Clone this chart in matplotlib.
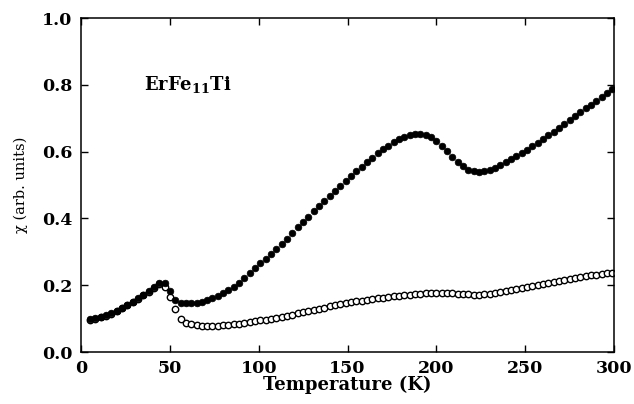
import matplotlib.pyplot as plt

# Temperature grid (K)
temperature = [5, 8, 11, 14, 17, 20, 23, 26, 29, 32, 35, 38, 41, 44, 47, 50, 53, 56, 59, 62,
               65, 68, 71, 74, 77, 80, 83, 86, 89, 92, 95, 98, 101, 104, 107, 110, 113, 116, 119, 122,
               125, 128, 131, 134, 137, 140, 143, 146, 149, 152, 155, 158, 161, 164, 167, 170, 173, 176, 179, 182,
               185, 188, 191, 194, 197, 200, 203, 206, 209, 212, 215, 218, 221, 224, 227, 230, 233, 236, 239, 242,
               245, 248, 251, 254, 257, 260, 263, 266, 269, 272, 275, 278, 281, 284, 287, 290, 293, 296, 299]

# filled circles
chi_filled = [0.098, 0.101, 0.105, 0.110, 0.116, 0.124, 0.133, 0.142, 0.151, 0.161,
              0.171, 0.183, 0.196, 0.208, 0.208, 0.184, 0.157, 0.148, 0.146, 0.146,
              0.148, 0.151, 0.155, 0.161, 0.168, 0.176, 0.185, 0.196, 0.208, 0.222,
              0.237, 0.252, 0.266, 0.278, 0.292, 0.307, 0.322, 0.339, 0.356, 0.373,
              0.389, 0.405, 0.421, 0.436, 0.452, 0.467, 0.482, 0.497, 0.512, 0.527,
              0.541, 0.555, 0.569, 0.582, 0.595, 0.607, 0.618, 0.628, 0.637, 0.644,
              0.649, 0.652, 0.653, 0.650, 0.643, 0.632, 0.617, 0.601, 0.585, 0.569,
              0.556, 0.546, 0.541, 0.540, 0.542, 0.546, 0.552, 0.560, 0.568, 0.577,
              0.587, 0.596, 0.606, 0.617, 0.627, 0.638, 0.649, 0.660, 0.671, 0.683,
              0.695, 0.707, 0.719, 0.730, 0.741, 0.752, 0.763, 0.775, 0.786]

# open circles
chi_open = [0.097, 0.100, 0.104, 0.109, 0.115, 0.123, 0.132, 0.141, 0.150, 0.160,
            0.170, 0.181, 0.193, 0.204, 0.196, 0.165, 0.128, 0.098, 0.088, 0.083,
            0.080, 0.079, 0.078, 0.078, 0.079, 0.080, 0.081, 0.083, 0.085, 0.087,
            0.089, 0.092, 0.095, 0.097, 0.100, 0.103, 0.106, 0.109, 0.112, 0.116,
            0.119, 0.123, 0.126, 0.130, 0.133, 0.137, 0.140, 0.143, 0.146, 0.149,
            0.152, 0.154, 0.157, 0.159, 0.161, 0.163, 0.165, 0.167, 0.169, 0.171,
            0.172, 0.174, 0.175, 0.176, 0.176, 0.177, 0.177, 0.177, 0.176, 0.175,
            0.174, 0.173, 0.172, 0.172, 0.173, 0.175, 0.177, 0.180, 0.183, 0.186,
            0.189, 0.192, 0.195, 0.198, 0.201, 0.204, 0.207, 0.210, 0.213, 0.216,
            0.219, 0.222, 0.225, 0.228, 0.230, 0.232, 0.234, 0.236, 0.238]

plt.rcParams["font.family"] = "DejaVu Serif"
plt.rcParams["mathtext.fontset"] = "dejavuserif"

fig = plt.figure(figsize=(6.34, 4.04), dpi=100)
ax = fig.add_axes([0.1278, 0.1287, 0.8407, 0.8267])

ax.plot(temperature, chi_open, "o", ms=4.6, mfc="white", mec="black", mew=1.0, zorder=2)
ax.plot(temperature, chi_filled, "o", ms=4.8, mfc="black", mec="black", mew=0.5, zorder=3)

ax.set_xlim(0, 300)
ax.set_ylim(0, 1.0)
ax.set_xticks([0, 50, 100, 150, 200, 250, 300])
ax.set_yticks([0.0, 0.2, 0.4, 0.6, 0.8, 1.0])
ax.set_yticklabels(["0.0", "0.2", "0.4", "0.6", "0.8", "1.0"])
ax.tick_params(direction="in", top=True, right=True, length=5, width=1,
               labelsize=12.5, pad=6)
for lab in ax.get_xticklabels() + ax.get_yticklabels():
    lab.set_fontweight("bold")
for s in ax.spines.values():
    s.set_linewidth(1.1)

ax.set_xlabel("Temperature (K)", fontsize=13, fontweight="bold", labelpad=-1)
ax.set_ylabel("χ (arb. units)", fontsize=10.5, labelpad=10)

ax.text(35.5, 0.785, "ErFe$_{\\mathbf{11}}$Ti", fontsize=13, fontweight="bold")

plt.savefig("out.png", dpi=100)
